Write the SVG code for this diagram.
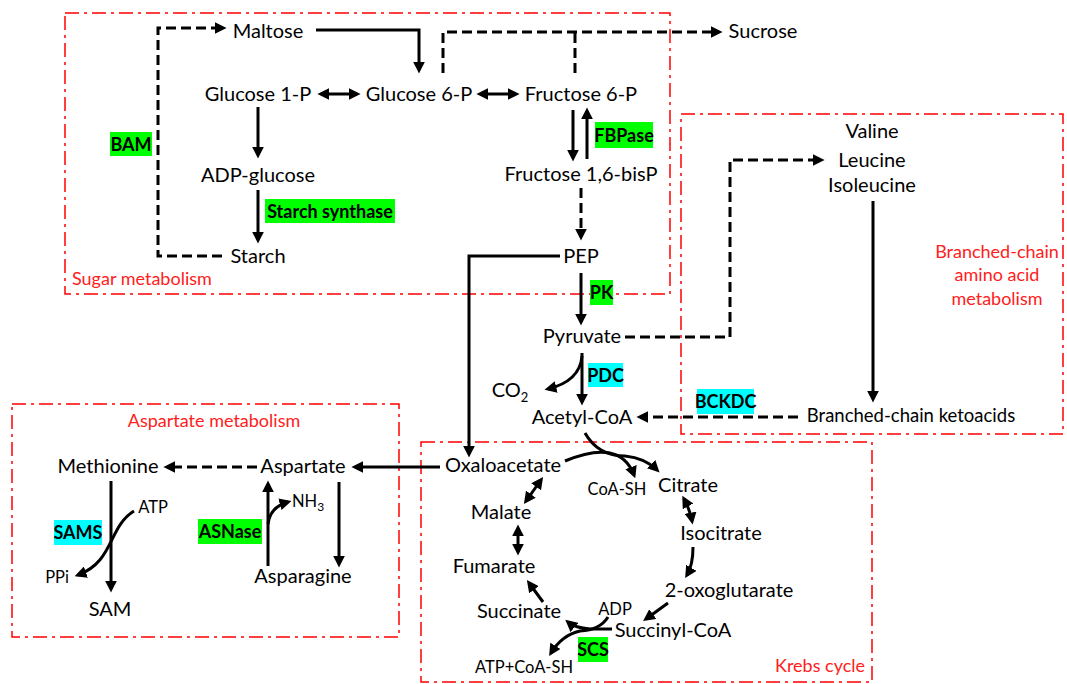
<svg xmlns="http://www.w3.org/2000/svg" width="1067" height="684" viewBox="0 0 1067 684">
<style>
.n{font-family:Lato,"Liberation Sans",sans-serif;font-size:20px;fill:#000;text-anchor:middle}
.t{font-size:16.5px}
.k{font-size:18.5px}
.sm{font-family:Lato,"Liberation Sans",sans-serif;font-size:16.5px;fill:#000}
.e{font-family:Lato,"Liberation Sans",sans-serif;font-size:18px;font-weight:bold;fill:#000;text-anchor:middle}
.r{font-family:Lato,"Liberation Sans",sans-serif;font-size:18px;fill:#ff2020}
.box{fill:none;stroke:#ff0000;stroke-width:1.5;stroke-dasharray:14,5,3,5}
.s{fill:none;stroke:#000;stroke-width:3}
.d{fill:none;stroke:#000;stroke-width:3;stroke-dasharray:10,5}
.g{fill:#00ff00}
.c{fill:#00ffff}
</style>
<defs>
<marker id="a" markerUnits="userSpaceOnUse" markerWidth="12" markerHeight="12" viewBox="0 0 10 10" refX="7" refY="5" orient="auto-start-reverse">
<path d="M0,0 L10,5 L0,10 z" fill="#000"/>
</marker>
</defs>
<rect width="1067" height="684" fill="#fff"/>
<g id="regions">
<rect class="box" x="65" y="13" width="605" height="281"/>
<rect class="box" x="681" y="114" width="382" height="320"/>
<rect class="box" x="12" y="404" width="387" height="233"/>
<rect class="box" x="421" y="442" width="451" height="240"/>
<text class="r" x="72" y="285">Sugar metabolism</text>
<text class="r" x="997" y="258" text-anchor="middle">Branched-chain</text>
<text class="r" x="997" y="281" text-anchor="middle">amino acid</text>
<text class="r" x="997" y="305" text-anchor="middle">metabolism</text>
<text class="r" x="214" y="427" text-anchor="middle">Aspartate metabolism</text>
<text class="r" x="820" y="672" text-anchor="middle">Krebs cycle</text>
</g>
<g id="connectors">
<path class="s" d="M316 30 H419 V70" marker-end="url(#a)"/>
<path class="s" d="M321 94 H357" marker-start="url(#a)" marker-end="url(#a)"/>
<path class="s" d="M480 94 H516" marker-start="url(#a)" marker-end="url(#a)"/>
<path class="d" d="M443 73 V32 H719" marker-end="url(#a)"/>
<path class="d" d="M575 73 V32"/>
<path class="d" d="M222 256 H158 V28 H223" marker-end="url(#a)"/>
<path class="s" d="M258 107 V155" marker-end="url(#a)"/>
<path class="s" d="M258 190 V240" marker-end="url(#a)"/>
<path class="s" d="M573 110 V158" marker-end="url(#a)"/>
<path class="s" d="M587 159 V111" marker-end="url(#a)"/>
<path class="d" d="M581 188 V237" marker-end="url(#a)"/>
<path class="s" d="M560 256 H469 V454" marker-end="url(#a)"/>
<path class="s" d="M581 273 V322" marker-end="url(#a)"/>
<path class="d" d="M625 337 H730 V160 H821" marker-end="url(#a)"/>
<path class="s" d="M873 201 V399" marker-end="url(#a)"/>
<path class="d" d="M798 417 H640" marker-end="url(#a)"/>
<path class="s" d="M582 353 V402" marker-end="url(#a)"/>
<path class="s" d="M582 356 Q580 381 548 389" marker-end="url(#a)"/>
<path class="s" d="M585 433 Q598 456 625 456 Q645 458 657 470" marker-end="url(#a)"/>
<path class="s" d="M565 461 Q620 438 634 475" marker-end="url(#a)"/>
<path class="s" d="M440 467 H355" marker-end="url(#a)"/>
<path class="d" d="M257 467 H167" marker-end="url(#a)"/>
<path class="s" d="M111 481 V589" marker-end="url(#a)"/>
<path class="s" d="M134 511 C108 527 114 562 78 575" marker-end="url(#a)"/>
<path class="s" d="M268 566 V484" marker-end="url(#a)"/>
<path class="s" d="M268 524 Q270 507 288 502" marker-end="url(#a)"/>
<path class="s" d="M339 482 V564" marker-end="url(#a)"/>
<path class="s" d="M684 499 Q690 510 692 521" marker-start="url(#a)" marker-end="url(#a)"/>
<path class="s" d="M693 547 Q693 565 687 575" marker-end="url(#a)"/>
<path class="s" d="M668 603 L646 619" marker-end="url(#a)"/>
<path class="s" d="M612 629 H590 Q575 628 568 622" marker-end="url(#a)"/>
<path class="s" d="M608 617 Q600 630 580 631 Q562 635 551 653" marker-end="url(#a)"/>
<path class="s" d="M543 602 L529 583" marker-end="url(#a)"/>
<path class="s" d="M518 528 V552" marker-start="url(#a)" marker-end="url(#a)"/>
<path class="s" d="M526 501 L541 480" marker-start="url(#a)" marker-end="url(#a)"/>
</g>
<g id="maltose"><text class="n" x="268" y="38">Maltose</text></g>
<g id="sucrose"><text class="n" x="763" y="38">Sucrose</text></g>
<g id="glucose1p"><text class="n" x="258" y="101">Glucose 1-P</text></g>
<g id="glucose6p"><text class="n" x="419" y="101">Glucose 6-P</text></g>
<g id="fructose6p"><text class="n" x="581" y="101">Fructose 6-P</text></g>
<g id="adpglucose"><text class="n" x="258" y="182">ADP-glucose</text></g>
<g id="starch"><text class="n" x="258" y="263">Starch</text></g>
<g id="fructose16bp"><text class="n" x="581" y="181">Fructose 1,6-bisP</text></g>
<g id="pep"><text class="n" x="581" y="263">PEP</text></g>
<g id="pyruvate"><text class="n" x="582" y="343">Pyruvate</text></g>
<g id="co2"><text class="n" x="510" y="397" text-anchor="start">CO<tspan font-size="13" dy="5">2</tspan></text></g>
<g id="acetylcoa"><text class="n" x="582" y="424">Acetyl-CoA</text></g>
<g id="bcaa"><text class="n" x="872" y="138">Valine</text><text class="n" x="872" y="167">Leucine</text><text class="n" x="872" y="192">Isoleucine</text></g>
<g id="ketoacids"><text class="n k" x="911" y="422">Branched-chain ketoacids</text></g>
<g id="oxaloacetate"><text class="n" x="503" y="472">Oxaloacetate</text></g>
<g id="coash"><text class="n t" x="617" y="495">CoA-SH</text></g>
<g id="citrate"><text class="n" x="688" y="492">Citrate</text></g>
<g id="isocitrate"><text class="n" x="721" y="540">Isocitrate</text></g>
<g id="oxoglutarate"><text class="n" x="729" y="597">2-oxoglutarate</text></g>
<g id="succinylcoa"><text class="n" x="673" y="637">Succinyl-CoA</text></g>
<g id="adp"><text class="n t" x="615" y="615">ADP</text></g>
<g id="atpcoash"><text class="n t" x="524" y="673">ATP+CoA-SH</text></g>
<g id="succinate"><text class="n" x="519" y="618">Succinate</text></g>
<g id="fumarate"><text class="n" x="494" y="573">Fumarate</text></g>
<g id="malate"><text class="n" x="501" y="519">Malate</text></g>
<g id="aspartate"><text class="n" x="303" y="473">Aspartate</text></g>
<g id="methionine"><text class="n" x="108" y="473">Methionine</text></g>
<g id="sam"><text class="n" x="110" y="616">SAM</text></g>
<g id="atp"><text class="n t" x="153" y="513">ATP</text></g>
<g id="ppi"><text class="n t" x="57" y="583">PPi</text></g>
<g id="nh3"><text class="sm" x="292" y="507">NH<tspan font-size="12" dy="4">3</tspan></text></g>
<g id="asparagine"><text class="n" x="303" y="583">Asparagine</text></g>
<g id="bam"><rect class="g" x="110" y="132" width="42" height="24"/><text class="e" x="131" y="150.5">BAM</text></g>
<g id="starchsynthase"><rect class="g" x="265" y="199" width="130" height="24"/><text class="e" x="330" y="217.5">Starch synthase</text></g>
<g id="fbpase"><rect class="g" x="595" y="122" width="58" height="26"/><text class="e" x="624" y="141.5">FBPase</text></g>
<g id="pk"><rect class="g" x="590" y="280" width="23" height="25"/><text class="e" x="601.5" y="298.5">PK</text></g>
<g id="pdc"><rect class="c" x="588" y="363" width="35" height="24"/><text class="e" x="605.5" y="381.5">PDC</text></g>
<g id="bckdc"><rect class="c" x="697" y="389" width="57" height="25"/><text class="e" x="725.5" y="407.5">BCKDC</text></g>
<g id="sams"><rect class="c" x="54" y="520" width="48" height="25"/><text class="e" x="78" y="538.5">SAMS</text></g>
<g id="asnase"><rect class="g" x="198" y="519" width="64" height="25"/><text class="e" x="230" y="537.5">ASNase</text></g>
<g id="scs"><rect class="g" x="578" y="637" width="30" height="25"/><text class="e" x="593" y="655.5">SCS</text></g>
</svg>
